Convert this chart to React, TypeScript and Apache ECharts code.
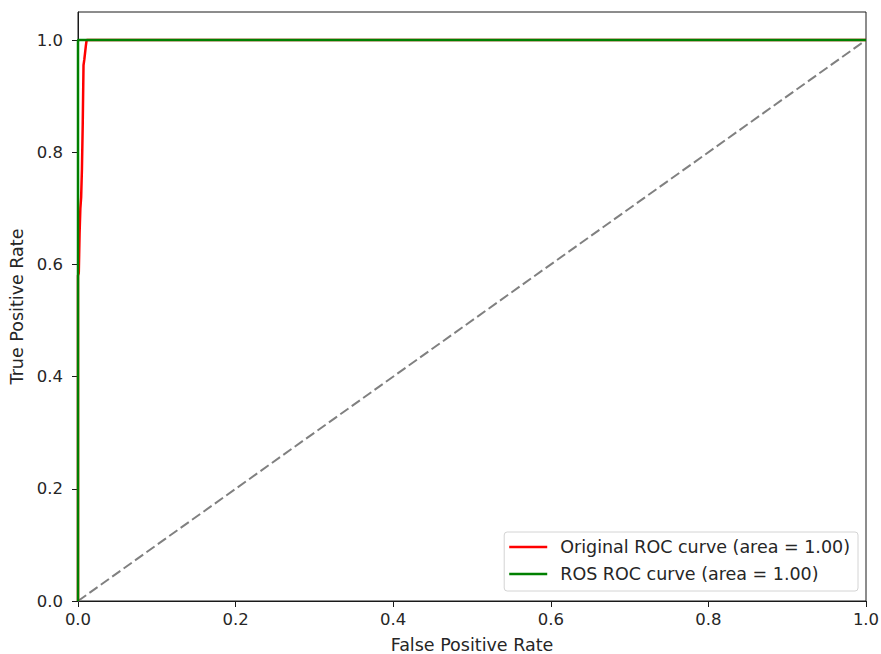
import React, { useEffect, useRef } from "react";
import * as echarts from "echarts";

const originalFpr = [0, 0, 0.001, 0.002, 0.003, 0.004, 0.005, 0.006, 0.007, 0.008, 0.01, 0.011, 1];
const originalTpr = [0, 0.58, 0.585, 0.655, 0.7, 0.72, 0.77, 0.85, 0.955, 0.965, 0.99, 1, 1];
const rosFpr = [0, 0, 1];
const rosTpr = [0, 1, 1];
const chanceFpr = [0, 1];
const chanceTpr = [0, 1];
const legendNames = ["Original ROC curve (area = 1.00)", "ROS ROC curve (area = 1.00)"];

const zip = (a: number[], b: number[]) => a.map((v, i) => [v, b[i]]);

export default function App() {
  const ref = useRef<HTMLDivElement>(null);
  useEffect(() => {
    document.body.style.margin = "0";
    const chart = echarts.init(ref.current!, null, { renderer: "svg" });
    const font = "DejaVu Sans";
    const txt = "#262626";
    chart.setOption({
      animation: false,
      backgroundColor: "#fff",
      textStyle: { fontFamily: font },
      grid: {
        left: 78,
        right: 15,
        top: 12,
        bottom: 53,
        containLabel: false,
        outerBoundsMode: "none",
        show: true,
        borderColor: "#1a1a1a",
        borderWidth: 1,
      },
      legend: {
        orient: "vertical",
        right: 23,
        bottom: 63,
        data: legendNames,
        icon: "rect",
        itemWidth: 38,
        itemHeight: 2.5,
        itemGap: 9,
        padding: [6, 8, 8, 5],
        borderColor: "#d4d4d4",
        borderWidth: 1,
        borderRadius: 3,
        backgroundColor: "rgba(255,255,255,0.8)",
        textStyle: { fontFamily: font, fontSize: 17.5, color: txt, padding: [0, 0, 0, 8] },
      },
      xAxis: {
        type: "value",
        min: 0,
        max: 1,
        interval: 0.2,
        name: "False Positive Rate",
        nameLocation: "middle",
        nameGap: 35,
        nameTextStyle: { fontFamily: font, fontSize: 17.5, color: txt },
        axisLine: { show: true, lineStyle: { color: "#1a1a1a" } },
        axisTick: { show: true, length: 6, lineStyle: { color: "#1a1a1a" } },
        axisLabel: {
          fontFamily: font,
          fontSize: 16.5,
          color: txt,
          margin: 10,
          formatter: (v: number) => v.toFixed(1),
        },
        splitLine: { show: false },
      },
      yAxis: {
        type: "value",
        min: 0,
        max: 1.05,
        interval: 0.2,
        name: "True Positive Rate",
        nameLocation: "middle",
        nameGap: 50,
        nameTextStyle: { fontFamily: font, fontSize: 17.5, color: txt },
        axisLine: { show: true, lineStyle: { color: "#1a1a1a" } },
        axisTick: { show: true, length: 6, lineStyle: { color: "#1a1a1a" } },
        axisLabel: {
          fontFamily: font,
          fontSize: 16.5,
          color: txt,
          margin: 15,
          showMaxLabel: false,
          formatter: (v: number) => v.toFixed(1),
        },
        splitLine: { show: false },
      },
      series: [
        {
          name: legendNames[0],
          type: "line",
          data: zip(originalFpr, originalTpr),
          showSymbol: false,
          symbol: "none",
          color: "#ff0000",
          lineStyle: { color: "#ff0000", width: 2.5 },
          z: 3,
        },
        {
          name: legendNames[1],
          type: "line",
          data: zip(rosFpr, rosTpr),
          showSymbol: false,
          symbol: "none",
          color: "#008000",
          lineStyle: { color: "#008000", width: 2.5 },
          z: 4,
        },
        {
          name: "chance",
          type: "line",
          data: zip(chanceFpr, chanceTpr),
          showSymbol: false,
          symbol: "none",
          color: "#808080",
          lineStyle: { color: "#808080", width: 2, type: [10, 4] },
          z: 2,
        },
      ],
    });
    return () => chart.dispose();
  }, []);
  return <div ref={ref} style={{ width: 881, height: 654 }} />;
}
